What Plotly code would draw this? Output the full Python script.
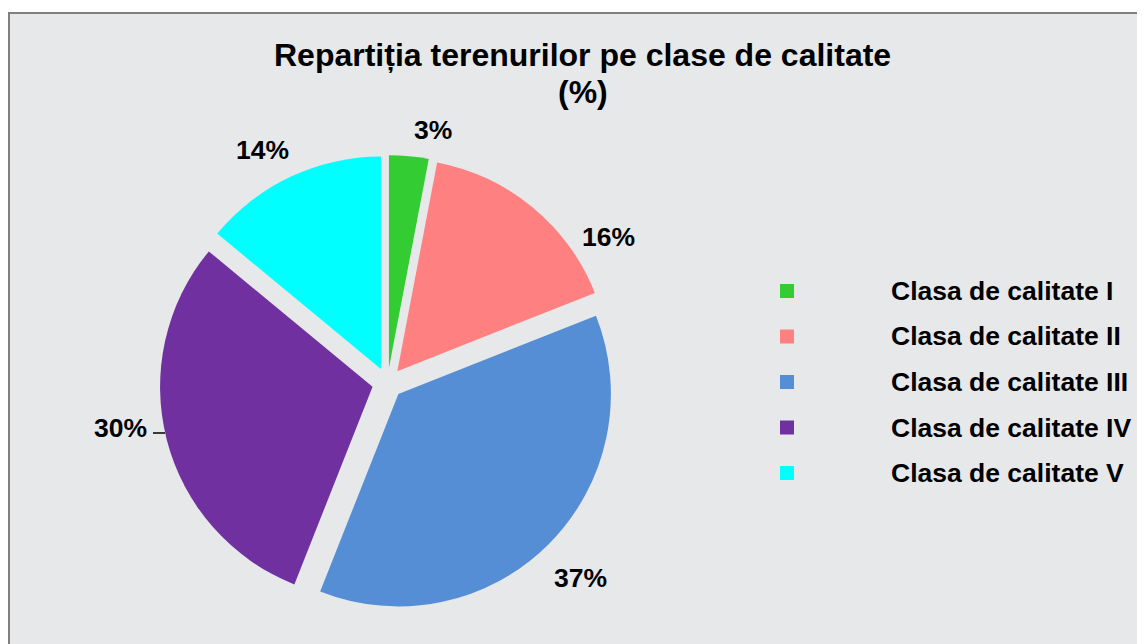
import plotly.graph_objects as go

categories = ["Clasa de calitate I", "Clasa de calitate II", "Clasa de calitate III",
              "Clasa de calitate IV", "Clasa de calitate V"]
values = [3, 16, 37, 30, 14]
colors = ["#33CC33", "#FF8080", "#558ED5", "#7030A0", "#00FFFF"]
title_lines = ["Repartiția terenurilor pe clase de calitate", "(%)"]

W, H = 1145, 644
FONT = "Liberation Sans, Arial, sans-serif"

# pie geometry (figure pixels)
CX, CY, R, PULL = 379.5, 375.0, 212.5, 0.0725
HALF = R * (1 + PULL)

# data-label placement (figure pixels), one per slice
label_pos = [(425, 122), (600, 229), (572, 570), (112, 420), (254, 142)]


def px(x):
    return x / W


def py(y):
    return 1 - y / H


fig = go.Figure()
fig.add_trace(go.Pie(
    labels=categories, values=values, sort=False, direction="clockwise", rotation=0,
    marker=dict(colors=colors, line=dict(width=0)),
    pull=[PULL] * len(values),
    textinfo="none", hoverinfo="label+percent",
    showlegend=False,
    domain=dict(x=[px(CX - HALF), px(CX + HALF)], y=[py(CY + HALF), py(CY - HALF)]),
))

shapes = [dict(type="rect", xref="paper", yref="paper", x0=px(1), x1=1.02, y0=-0.02, y1=py(5),
               fillcolor="#e7e8ea", line=dict(color="#808080", width=2), layer="below")]
annotations = []

# data labels
for v, (lx, ly) in zip(values, label_pos):
    annotations.append(dict(xref="paper", yref="paper", x=px(lx), y=py(ly), text=f"{v}%",
                            showarrow=False, xanchor="center", yanchor="middle",
                            font=dict(family=FONT, size=26.5, color="black", weight="bold")))
# leader line of the 30% label
shapes.append(dict(type="line", xref="paper", yref="paper", x0=px(145), x1=px(157),
                   y0=py(425), y1=py(425), line=dict(color="black", width=1.5)))

# legend
row0, step = 283, 45.5
for i, (cat, col) in enumerate(zip(categories, colors)):
    yc = row0 + i * step
    shapes.append(dict(type="rect", xref="paper", yref="paper",
                       x0=px(772), x1=px(786), y0=py(yc + 7), y1=py(yc - 7),
                       fillcolor=col, line=dict(width=0)))
    annotations.append(dict(xref="paper", yref="paper", x=px(881), y=py(yc), text=cat,
                            showarrow=False, xanchor="left", yanchor="middle",
                            font=dict(family=FONT, size=26.5, color="black", weight="bold")))

# title (two lines)
for t, ty in zip(title_lines, [47, 84]):
    annotations.append(dict(xref="paper", yref="paper", x=px(575), y=py(ty), text=t,
                            showarrow=False, xanchor="center", yanchor="middle",
                            font=dict(family=FONT, size=32, color="black", weight="bold")))

fig.update_layout(
    width=W, height=H, margin=dict(l=0, r=0, t=0, b=0),
    paper_bgcolor="white", plot_bgcolor="white",
    shapes=shapes, annotations=annotations,
)
fig.write_html("out.html")
